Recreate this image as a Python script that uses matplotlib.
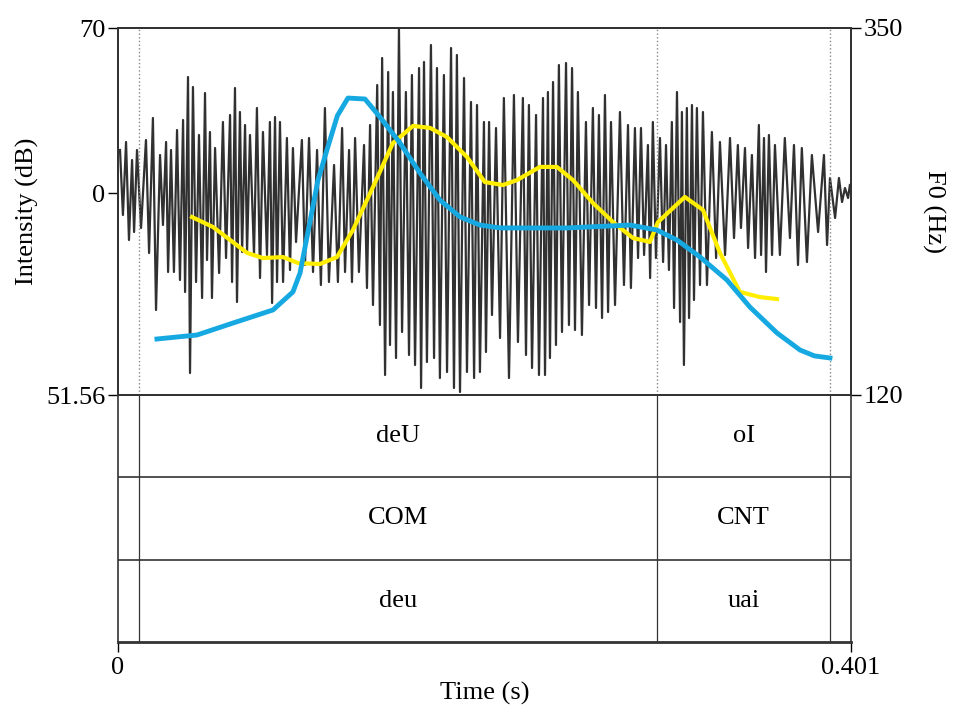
import matplotlib.pyplot as plt
from matplotlib.ticker import FixedLocator

plt.rcParams['font.family'] = ['Liberation Serif', 'DejaVu Serif']
plt.rcParams['font.size'] = 19

DUR = 0.401

# waveform extremes (time in ms, amplitude in arbitrary units)
peak_ms = [1.1, 4.4, 7.7, 10.4,
           15.3, 19.1, 23.0, 26.3, 29.0, 32.3, 35.6, 38.3, 41.0, 44.3, 47.6,
           50.3, 53.1, 57.4, 61.3, 64.0, 66.7, 69.5, 72.2, 76.0, 79.3, 83.1, 85.9, 88.6, 92.4, 95.7,
           100.6, 104.5, 108.9, 113.2, 118.2, 122.6, 126.4, 129.7, 134.6, 137.9, 141.8, 144.5, 147.8, 150.4,
           153.7, 157.5, 160.8, 164.7, 167.4, 171.2, 174.5, 178.3, 182.2, 185.4, 189.3, 193.1, 196.4, 200.2,
           203.0, 206.8, 211.1, 216.6, 221.5, 224.8, 228.7, 232.5, 235.2, 238.0, 241.2, 245.1, 248.4, 251.6,
           256.0, 259.8, 263.1, 266.4, 269.7, 274.6, 279.0, 282.8, 286.1, 289.9, 292.6, 296.5, 299.8,
           303.0, 305.8, 308.5, 311.2, 314.0, 316.7, 320.0, 324.9, 329.3, 334.8, 339.1, 343.0, 346.8, 350.6,
           353.4, 356.1, 359.4, 364.8, 369.8, 374.1, 379.6, 386.2, 389.5, 394.4, 397.7, 400.4]
peak_amp = [43, 51, 33, 43,
            53, 75, 38, 51, 43, 63, 73, 116, 106, 58, 100,
            61, 45, 71, 78, 105, 81, 68, 58, 85, 61, 71, 76, 71, 55, 45,
            53, 55, 43, 85, 28, 65, 43, 55, 48, 68, 108, 135, 121, 101,
            165, 101, 118, 125, 131, 148, 125, 118, 145, 138, 115, 91, 88, 71,
            71, 65, 95, 98, 95, 88, 78, 95, 101, 111, 128, 130, 125, 101,
            71, 85, 78, 98, 71, 81, 68, 65, 65, 48, 71, 55, 48,
            71, 101, 81, 85, 88, 85, 81, 61, 51, 55, 48, 45, 38, 68,
            55, 58, 48, 55, 48, 45, 38, 38, 15, 15, 5, 8]
trough_ms = [2.7, 6.0, 8.8, 12.6,
             17.0, 20.8, 24.6, 27.4, 30.6, 33.9, 36.7, 39.4, 42.7, 46.0, 48.7,
             51.4, 55.3, 59.1, 62.4, 65.1, 67.9, 70.6, 74.4, 77.7, 81.5, 84.3, 87.0, 90.3, 94.1, 97.4,
             102.3, 106.7, 111.0, 115.4, 120.3, 124.2, 128.0, 131.8, 136.2, 139.5, 143.3, 146.1, 148.8, 152.1,
             155.4, 159.2, 162.5, 165.8, 169.0, 172.9, 176.1, 180.0, 183.8, 187.1, 190.9, 194.8, 198.0, 201.3,
             204.6, 209.0, 213.9, 218.8, 223.2, 226.5, 230.3, 233.6, 236.3, 239.6, 242.9, 246.7, 250.0,
             253.8, 257.7, 261.5, 264.8, 268.1, 271.9, 276.8, 280.6, 284.5, 287.8, 291.1, 294.3, 298.2, 301.4,
             304.2, 307.5, 309.6, 312.4, 315.1, 318.4, 322.2, 327.2, 332.1, 337.0, 340.8, 344.7, 348.5, 351.8,
             354.5, 357.8, 362.1, 367.6, 372.0, 376.9, 383.0, 387.9, 392.3, 396.1, 399.4]
trough_amp = [-22, -47, -39, -35,
              -60, -117, -32, -79, -79, -87, -99, -180, -89, -105, -67,
              -105, -80, -65, -89, -109, -59, -59, -62, -85, -62, -110, -89, -89, -77, -49,
              -72, -79, -92, -89, -89, -79, -89, -79, -95, -112, -132, -182, -152, -165,
              -139, -162, -172, -195, -169, -165, -185, -179, -195, -199, -179, -185, -179, -159,
              -122, -145, -185, -149, -162, -175, -182, -182, -165, -152, -139, -132, -137,
              -142, -112, -115, -125, -119, -112, -92, -95, -65, -62, -85, -65, -69, -77,
              -115, -129, -172, -125, -107, -92, -92, -65, -62, -45, -35, -55, -65, -62,
              -79, -62, -62, -45, -72, -69, -39, -52, -25, -9, -5]

# intensity contour (dB)
int_ms = [40.5, 52.0, 70.6, 79.3, 90.3, 98.5, 110.5, 119.8, 128.5, 139.5, 150.4, 161.4,
          170.7, 180.0, 190.9, 200.7, 210.6, 218.3, 230.8, 240.1, 248.9, 259.8, 270.8,
          281.7, 291.0, 295.4, 310.1, 320.0, 329.3, 340.2, 351.2, 360.5]
int_db = [60.50, 60.00, 58.70, 58.44, 58.49, 58.19, 58.14, 58.49, 59.85, 62.01, 64.22, 65.08,
          64.98, 64.52, 63.52, 62.26, 62.11, 62.36, 63.02, 63.02, 62.36, 61.21, 60.25,
          59.45, 59.25, 60.25, 61.51, 60.86, 58.70, 56.74, 56.48, 56.38]

# F0 contour (Hz)
f0_ms = [21.3, 43.2, 62.9, 84.8, 95.7, 99.6, 109.4, 114.3, 120.0, 125.8, 135.1, 143.3, 154.3,
         165.2, 176.1, 187.1, 198.0, 209.0, 245.6, 280.1, 294.8, 305.8, 318.4, 333.1,
         345.7, 360.5, 373.1, 381.0, 389.5]
f0_hz = [155.1, 157.6, 165.1, 173.3, 184.6, 196.5, 254.7, 273.5, 295.0, 306.1, 305.5, 294.2, 277.9,
         259.1, 242.2, 231.6, 226.5, 224.7, 224.7, 226.5, 223.4, 217.1, 206.5, 192.1,
         175.1, 158.9, 148.2, 144.5, 143.2]

# TextGrid
bounds = [0.0115, 0.2949, 0.3895]
tiers = [["deU", "oI"], ["COM", "CNT"], ["deu", "uai"]]

wave = sorted(zip(peak_ms + trough_ms, peak_amp + trough_amp))
wave_t = [t / 1000 for t, a in wave]
wave_a = [a for t, a in wave]

fig = plt.figure(figsize=(9.57, 7.13), dpi=100)
L, W = 118 / 957, 733 / 957
ax = fig.add_axes([L, 1 - 395 / 713, W, 367 / 713])
axt = fig.add_axes([L, 1 - 642 / 713, W, 247 / 713])

frame = '#333333'
ax.plot(wave_t, wave_a, color='#1a1a1a', lw=1.6, alpha=0.9)
for b in bounds:
    ax.axvline(b, color='#888888', ls=':', lw=1)
ax.set_xlim(0, DUR)
ax.set_ylim(-202, 165)
ax.set_xticks([])
ax.set_yticks([0])
ax.set_yticklabels(["0"])

axi = ax.twinx()
axi.plot([t / 1000 for t in int_ms], int_db, color='#ffee00', lw=3, solid_joinstyle='round')
axi.set_ylim(51.56, 70)
axi.yaxis.tick_left()
axi.yaxis.set_major_locator(FixedLocator([51.56, 70]))
axi.set_yticklabels(["51.56", "70"])

axf = ax.twinx()
axf.plot([t / 1000 for t in f0_ms], f0_hz, color='#16a9e1', lw=3.5, solid_joinstyle='round')
axf.set_ylim(120, 350)
axf.set_yticks([120, 350])
axf.set_ylabel("F0 (Hz)", rotation=-90, labelpad=30)
axi.set_ylabel("Intensity (dB)")
axi.yaxis.set_label_position('left')
axi.yaxis.labelpad = 5

for a in (ax, axi, axf, axt):
    a.tick_params(direction='out', length=7, width=1, colors='black', pad=2)
    for s in a.spines.values():
        s.set_color(frame)
        s.set_linewidth(1.2)

# tiers
axt.set_xlim(0, DUR)
axt.set_ylim(0, 3)
axt.set_yticks([])
axt.set_xticks([0, DUR])
axt.set_xticklabels(["0", "0.401"])
axt.tick_params(axis='x', pad=4)
axt.spines['bottom'].set_linewidth(2)
axt.axhline(1, color=frame, lw=1.2)
axt.axhline(2, color=frame, lw=1.2)
for b in bounds:
    axt.axvline(b, color=frame, lw=0.9)
for i, labels in enumerate(tiers):
    yc = 2.5 - i
    axt.text((bounds[0] + bounds[1]) / 2, yc, labels[0], ha='center', va='center')
    axt.text((bounds[1] + bounds[2]) / 2, yc, labels[1], ha='center', va='center')
axt.set_xlabel("Time (s)", labelpad=2)

fig.savefig("out.png", dpi=100)
